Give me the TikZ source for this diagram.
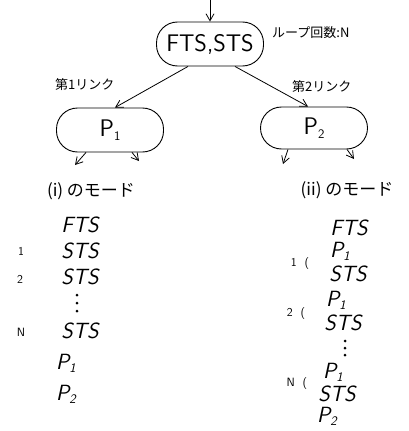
\documentclass[tikz,border=0pt]{standalone}
\usepackage{fontspec}
\newfontfamily\jp{Noto Sans CJK JP}
\usetikzlibrary{arrows.meta}
\newcommand{\mysub}[1]{\raisebox{-0.15em}{\fontsize{13}{13}\selectfont #1}}
\begin{document}
\begin{tikzpicture}[x=1pt,y=-1pt,
  pill/.style={draw,line width=0.9pt,rounded corners=21pt,minimum width=107pt,minimum height=44pt,inner sep=0pt,font=\sffamily\fontsize{24}{24}\selectfont},
  conn/.style={line width=0.8pt,-{Straight Barb[length=7pt,width=8pt]}},
  jlab/.style={font=\jp\fontsize{13}{13}\selectfont,inner sep=0pt},
  mlab/.style={font=\jp\fontsize{17}{17}\selectfont,inner sep=0pt},
  item/.style={font=\sffamily\itshape\fontsize{22}{22}\selectfont,inner sep=0pt,text height=15pt,text depth=1pt},
  num/.style={font=\sffamily\fontsize{12}{12}\selectfont,inner sep=0pt},
  dot/.style={fill,circle,inner sep=0pt,minimum size=3pt}]
\useasboundingbox (0,0) rectangle (409,431);
\node[pill] (top) at (210,44) {FTS,STS};
\coordinate (in) at (210,0);
\draw[conn] (in) -- (top);
\node[jlab,anchor=west] (loop) at (272,33) {ループ回数:N};
\node[pill] (p1) at (110,130) {P\mysub{1}};
\node[pill,minimum height=42pt] (p2) at (314,128) {P\mysub{2}};
\draw[conn] ([xshift=-22pt]top.south) -- ([xshift=5pt]p1.north);
\draw[conn] ([xshift=25pt]top.south) -- ([xshift=-6pt]p2.north);
\node[jlab,anchor=west] (l1) at (55,85) {第1リンク};
\node[jlab,anchor=west] (l2) at (292,87) {第2リンク};
% short arrows below nodes
\coordinate (b1) at (75,165); \coordinate (b2) at (139,161);
\coordinate (b3) at (283,164); \coordinate (b4) at (354,159);
\draw[conn] ([xshift=-24pt]p1.south) -- (b1);
\draw[conn] ([xshift=22pt]p1.south) -- (b2);
\draw[conn] ([xshift=-26pt]p2.south) -- (b3);
\draw[conn] ([xshift=33pt]p2.south) -- (b4);
\node[mlab] (m1) at (91,191) {(i) のモード};
\node[mlab] (m2) at (347,190) {(ii) のモード};
% left column
\node[item] (lf) at (80,225) {FTS};
\node[item] (ls1) at (80,251) {STS};
\node[num] (n1) at (21,251) {1};
\node[item] (ls2) at (80,277) {STS};
\node[num] (n2) at (20,279) {2};
\node[dot] (ld1) at (77,295) {}; \node[dot] (ld2) at (77,303) {}; \node[dot] (ld3) at (77,311) {};
\node[item] (lsn) at (80,331) {STS};
\node[num] (nn) at (21,332) {N};
\node[item] (lp1) at (66,362) {P\mysub{1}};
\node[item] (lp2) at (66,393) {P\mysub{2}};
% right column
\node[item] (rf) at (349,228) {FTS};
\node[item] (rp1) at (340,250) {P\mysub{1}};
\node[num] (r1) at (300,264) {1 \ (};
\node[item] (rs1) at (348,274) {STS};
\node[item] (rp2) at (336,299) {P\mysub{1}};
\node[num] (r2) at (296,314) {2 \ (};
\node[item] (rs2) at (343,323) {STS};
\node[dot] (rd1) at (345,341) {}; \node[dot] (rd2) at (345,348) {}; \node[dot] (rd3) at (345,355) {};
\node[item] (rp3) at (333,371) {P\mysub{1}};
\node[num] (rn) at (297,384) {N \ (};
\node[item] (rs3) at (337,394) {STS};
\node[item] (rp4) at (327,415) {P\mysub{2}};
\end{tikzpicture}
\end{document}
